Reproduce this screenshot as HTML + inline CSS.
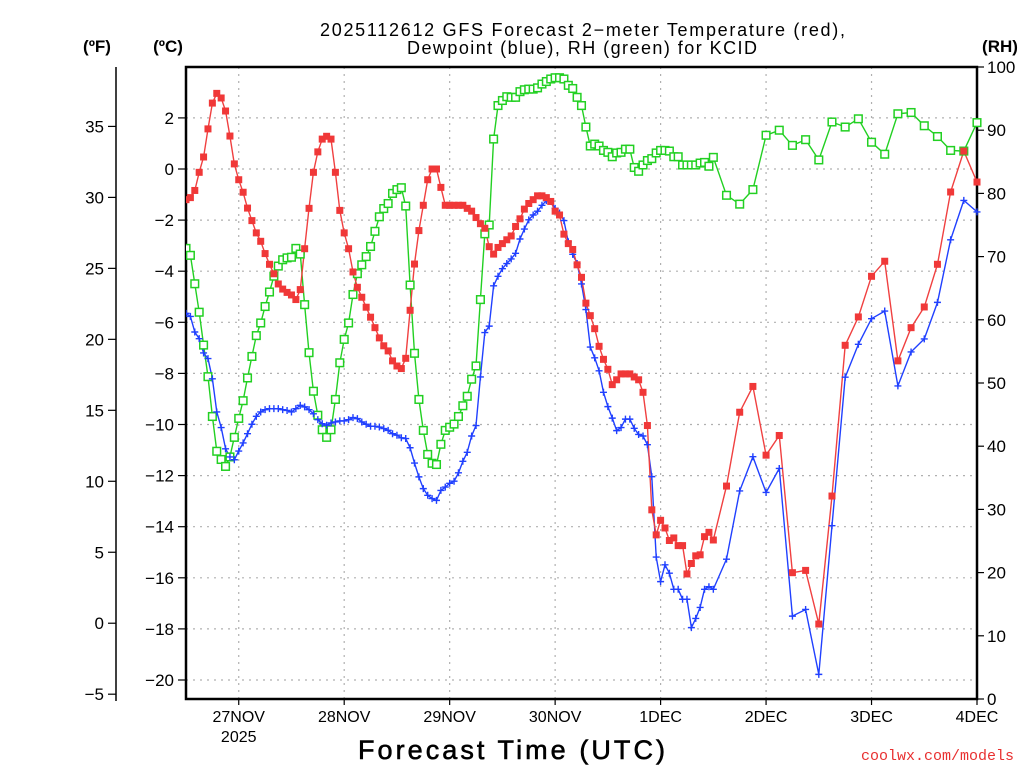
<!DOCTYPE html>
<html><head><meta charset="utf-8"><style>
html,body{margin:0;padding:0;background:#fff;}
svg{display:block;font-family:"Liberation Sans",sans-serif;}
</style></head><body>
<svg id="chart" width="1024" height="768" viewBox="0 0 1024 768" xmlns="http://www.w3.org/2000/svg">
<rect x="0" y="0" width="1024" height="768" fill="#fff"/>
<text x="320" y="36" font-size="18" textLength="525" lengthAdjust="spacing">2025112612 GFS Forecast 2−meter Temperature (red),</text>
<text x="407" y="54" font-size="18" textLength="350" lengthAdjust="spacing">Dewpoint (blue), RH (green) for KCID</text>
<text x="97" y="52" font-size="17" font-weight="bold" text-anchor="middle">(ºF)</text>
<text x="168" y="52" font-size="17" font-weight="bold" text-anchor="middle">(ºC)</text>
<text x="1000" y="52" font-size="17" font-weight="bold" text-anchor="middle">(RH)</text>
<text x="358" y="759" font-size="27" textLength="307" lengthAdjust="spacing" stroke="#000" stroke-width="0.6">Forecast Time (UTC)</text>
<text x="1014" y="760" font-size="15" fill="#e83030" text-anchor="end" font-family="Liberation Mono, monospace">coolwx.com/models</text>
<g id="grid"></g>
<g id="axes"></g>
<g id="series"></g>
</svg>
<script>
const hours=[0,1,2,3,4,5,6,7,8,9,10,11,12,13,14,15,16,17,18,19,20,21,22,23,24,25,26,27,28,29,30,31,32,33,34,35,36,37,38,39,40,41,42,43,44,45,46,47,48,49,50,51,52,53,54,55,56,57,58,59,60,61,62,63,64,65,66,67,68,69,70,71,72,73,74,75,76,77,78,79,80,81,82,83,84,85,86,87,88,89,90,91,92,93,94,95,96,97,98,99,100,101,102,103,104,105,106,107,108,109,110,111,112,113,114,115,116,117,118,119,120,123,126,129,132,135,138,141,144,147,150,153,156,159,162,165,168,171,174,177,180];
const tempC=[-1.2,-1.12,-0.84,-0.13,0.47,1.57,2.58,2.96,2.78,2.27,1.29,0.2,-0.42,-0.91,-1.53,-2.02,-2.5,-2.83,-3.31,-3.73,-4.1,-4.5,-4.7,-4.83,-4.93,-5.11,-4.72,-3.12,-1.54,-0.13,0.67,1.17,1.28,1.17,-0.13,-1.62,-2.5,-3.12,-4.03,-4.63,-5.02,-5.41,-5.8,-6.21,-6.61,-6.92,-7.12,-7.51,-7.71,-7.81,-7.41,-5.53,-3.72,-2.41,-1.42,-0.42,0.0,0.0,-0.72,-1.42,-1.42,-1.42,-1.42,-1.42,-1.54,-1.65,-1.9,-2.14,-2.32,-3.04,-3.33,-3.07,-2.92,-2.77,-2.62,-2.25,-1.95,-1.57,-1.35,-1.2,-1.05,-1.05,-1.12,-1.27,-1.65,-1.8,-2.55,-2.92,-3.15,-3.75,-4.24,-5.25,-5.74,-6.25,-6.94,-7.45,-7.84,-8.44,-8.25,-8.02,-8.02,-8.02,-8.14,-8.25,-8.74,-10.04,-13.34,-14.32,-13.75,-14.05,-14.54,-14.44,-14.74,-14.74,-15.85,-15.44,-15.14,-15.1,-14.39,-14.22,-14.52,-12.41,-9.52,-8.51,-11.2,-10.43,-15.8,-15.71,-17.81,-12.8,-6.9,-5.79,-4.2,-3.61,-7.51,-6.21,-5.4,-3.73,-0.9,0.7,-0.51];
const dewC=[-5.65,-5.77,-6.38,-6.64,-7.2,-7.42,-8.21,-9.51,-10.12,-10.95,-11.27,-11.38,-11.04,-10.72,-10.36,-9.99,-9.68,-9.51,-9.42,-9.38,-9.38,-9.38,-9.42,-9.45,-9.51,-9.38,-9.25,-9.31,-9.42,-9.58,-9.81,-9.97,-10.03,-9.94,-9.9,-9.86,-9.86,-9.81,-9.73,-9.77,-9.9,-9.99,-10.07,-10.07,-10.1,-10.16,-10.23,-10.36,-10.42,-10.52,-10.55,-10.91,-11.51,-12.05,-12.51,-12.77,-12.9,-12.97,-12.58,-12.45,-12.3,-12.22,-11.89,-11.44,-11.09,-10.45,-10.04,-8.14,-6.4,-6.15,-4.57,-4.2,-3.9,-3.7,-3.52,-3.3,-2.74,-2.35,-1.99,-1.8,-1.65,-1.42,-1.24,-1.27,-1.54,-1.72,-2.02,-2.85,-3.34,-3.7,-4.5,-5.5,-6.97,-7.39,-7.9,-8.74,-9.3,-9.75,-10.24,-10.12,-9.79,-9.79,-10.15,-10.39,-10.45,-10.79,-12.04,-15.19,-16.15,-15.49,-15.82,-16.45,-16.45,-16.84,-16.84,-17.95,-17.59,-17.16,-16.45,-16.35,-16.45,-15.27,-12.6,-11.26,-12.66,-11.72,-17.5,-17.24,-19.78,-13.96,-8.15,-6.86,-5.86,-5.56,-8.49,-7.16,-6.65,-5.22,-2.77,-1.23,-1.68];
const rhPct=[71.3,70.2,65.7,61.2,56,51,44.7,39.2,37.9,36.8,38.3,41.4,44.4,47.2,50.8,54.2,57.5,59.5,62.1,64.4,66.9,68.5,69.5,69.8,69.9,71.3,70.4,62.4,54.8,48.7,44.9,42.6,41.4,42.6,47.4,53.2,56.9,59.5,64,67.3,68.7,70,71.6,74,76.3,77.6,78.4,80,80.6,80.9,78,65.5,54.7,47.4,42.5,38.7,37.3,37.1,40.3,42.5,43,43.5,44.7,46.4,47.9,50.6,52.7,63.2,73.6,75,88.6,93.9,94.7,95.3,95.2,95.2,96.1,96.4,96.5,96.5,96.7,97.3,97.7,98.1,98.3,98.3,98.1,97.1,96.6,95.2,93.9,90.5,87.5,87.8,87.5,86.8,86.5,85.8,86.4,86.5,87,87,84.1,83.5,84.5,85.2,85.5,86.4,86.8,86.8,86.7,85.8,85.8,84.5,84.5,84.5,84.5,84.8,84.9,84.3,85.7,79.7,78.3,80.6,89.2,90,87.6,88.5,85.3,91.3,90.5,91.8,88.1,86.2,92.6,92.8,90.7,89,86.8,86.7,91.2];
const dayLabels=["27NOV","28NOV","29NOV","30NOV","1DEC","2DEC","3DEC","4DEC"];
const dayHours=[12,36,60,84,108,132,156,180];
const cTicks=[2,0,-2,-4,-6,-8,-10,-12,-14,-16,-18,-20];
const fTicks=[35,30,25,20,15,10,5,0,-5];
const rhTicks=[0,10,20,30,40,50,60,70,80,90,100];

const NS="http://www.w3.org/2000/svg";
const L=186,R=977,T=67,B=699;
const xH=h=>L+(R-L)*h/180;
const yC=c=>169-25.55*c;
const yF=f=>yC((f-32)/1.8);
const yRH=r=>B-(B-T)*r/100;
function mk(tag,attrs,parent){const e=document.createElementNS(NS,tag);for(const k in attrs)e.setAttribute(k,attrs[k]);parent.appendChild(e);return e;}
const grid=document.getElementById('grid'),axes=document.getElementById('axes'),ser=document.getElementById('series');

cTicks.forEach(c=>{const y=yC(c);
 const g=mk('line',{x1:L,x2:R,y1:y,y2:y,stroke:'#b0b0b0','stroke-width':1.2,'stroke-dasharray':'2,5'},grid);
 
 
 const t=mk('line',{x1:L-8,x2:L,y1:y,y2:y,stroke:'#000','stroke-width':1.2},axes);
 
 
 const tx=mk('text',{x:L-12,y:y+6,'font-size':17,'text-anchor':'end'},axes);tx.textContent=(c<0?'−'+(-c):String(c));
 
 
});
dayHours.forEach((h,i)=>{const x=xH(h);
 if(h<180){const g=mk('line',{x1:x,x2:x,y1:T,y2:B,stroke:'#b0b0b0','stroke-width':1.2,'stroke-dasharray':'2,5'},grid);
 
 }
 const t=mk('line',{x1:x,x2:x,y1:B,y2:B+6,stroke:'#000','stroke-width':1.2},axes);
 
 
 const tx=mk('text',{x:x,y:B+23,'font-size':16,'text-anchor':'middle'},axes);tx.textContent=dayLabels[i];
 
 
});
{const tx=mk('text',{x:xH(12),y:B+43,'font-size':16,'text-anchor':'middle'},axes);tx.textContent='2025';
 
 }
{const a=mk('line',{x1:116,x2:116,y1:T,y2:B+2,stroke:'#000','stroke-width':1.5},axes);
 
 }
fTicks.forEach(f=>{const y=yF(f);
 const t=mk('line',{x1:108,x2:116,y1:y,y2:y,stroke:'#000','stroke-width':1.2},axes);
 
 
 const tx=mk('text',{x:104,y:y+6,'font-size':17,'text-anchor':'end'},axes);tx.textContent=(f<0?'−'+(-f):String(f));
 
 
});
rhTicks.forEach(r=>{const y=yRH(r);
 const t=mk('line',{x1:R,x2:R+7,y1:y,y2:y,stroke:'#000','stroke-width':1.2},axes);
 
 
 const tx=mk('text',{x:R+10,y:y+6,'font-size':17,'text-anchor':'start'},axes);tx.textContent=String(r);
 
 
});
{const f=mk('rect',{x:L,y:T,width:R-L,height:B-T,fill:'none',stroke:'#000','stroke-width':2.5},axes);
 
 }

const clip=mk('clipPath',{id:'pc'},document.getElementById('chart'));mk('rect',{x:L,y:T-6,width:R-L+6,height:B-T+6},clip);
ser.setAttribute('clip-path','url(#pc)');
function line(vals,yf,color,name){
 const p=mk('polyline',{points:hours.map((h,i)=>xH(h).toFixed(1)+','+yf(vals[i]).toFixed(1)).join(' '),fill:'none',stroke:color,'stroke-width':1.4},ser);
 
 
}
line(rhPct,yRH,'#22d022','rh-line');
line(dewC,yC,'#2040ff','dewpoint-line');
line(tempC,yC,'#f04040','temperature-line');
hours.forEach((h,i)=>{const x=xH(h),y=yRH(rhPct[i]);
 const m=mk('rect',{x:x-3.8,y:y-3.8,width:7.6,height:7.6,fill:'#fff',stroke:'#22d022','stroke-width':1.5},ser);
 
 
});
hours.forEach((h,i)=>{const x=xH(h),y=yC(dewC[i]);
 const m=mk('path',{d:`M${x-3.5},${y}H${x+3.5}M${x},${y-3.5}V${y+3.5}`,stroke:'#2040ff','stroke-width':1.4,fill:'none'},ser);
 
 
});
hours.forEach((h,i)=>{const x=xH(h),y=yC(tempC[i]);
 const m=mk('rect',{x:x-3.5,y:y-3.5,width:7,height:7,fill:'#f03838'},ser);
 
 
});
</script>
</body></html>
